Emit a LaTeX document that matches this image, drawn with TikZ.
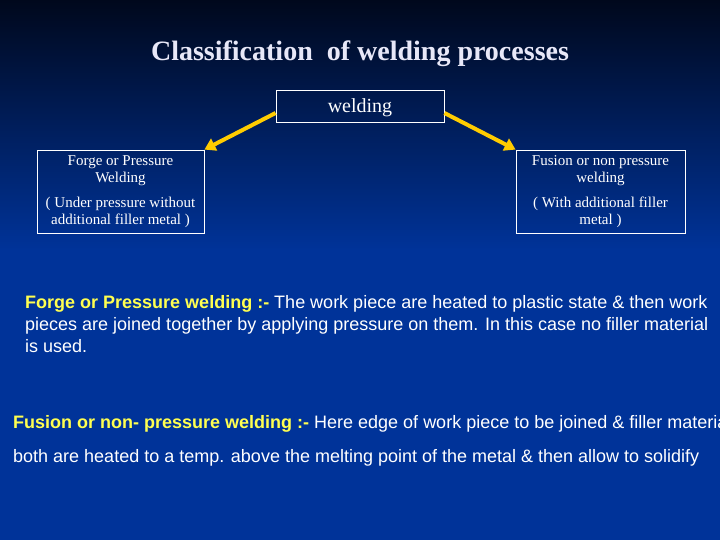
\documentclass[tikz,border=0pt]{standalone}
\usepackage{fontspec}
\setmainfont{Liberation Serif}
\newfontfamily\arialfont{Liberation Sans}
\usetikzlibrary{positioning,arrows.meta}

\definecolor{slideblue}{RGB}{0,51,153}
\definecolor{slidetop}{RGB}{0,8,28}
\definecolor{arrowyellow}{RGB}{255,204,0}
\definecolor{termyellow}{RGB}{255,255,80}
\definecolor{titlewhite}{RGB}{232,232,248}

\begin{document}
\begin{tikzpicture}[x=1pt,y=-1pt,
  box/.style={draw=white, line width=0.8pt, text=white, align=center, inner sep=0pt},
  branch/.style={-{Triangle[length=11pt,width=13pt]}, arrowyellow, line width=4pt},
  para/.style={anchor=north west, align=left, text=white, inner sep=0pt}]

% Background of the slide
\useasboundingbox (0,0) rectangle (720,540);
\clip (0,0) rectangle (720,540);
\shade[top color=slidetop, bottom color=slideblue] (0,0) rectangle (720,250);
\fill[slideblue] (0,249) rectangle (720,540);

% Title
\node[font=\bfseries\fontsize{28}{32}\selectfont, text=titlewhite] (title) at (360,54) {Classification\ \ of welding processes};

% Classification tree
\node[box, minimum width=168pt, minimum height=32pt, text depth=0pt, font=\fontsize{20}{22}\selectfont] (welding) at (360,106) {welding};
\node[box, minimum width=167pt, minimum height=83pt, font=\fontsize{15}{17}\selectfont] (forge) at (120.5,191.5)
  {Forge or Pressure\\Welding\\[8pt]( Under pressure without\\additional filler metal )};
\node[box, minimum width=169pt, minimum height=83pt, font=\fontsize{15}{17}\selectfont] (fusion) at (600.5,191.5)
  {Fusion or non pressure\\welding\\[8pt]( With additional filler\\metal )};

% Arrows
\draw[branch] ([yshift=-7pt]welding.west) -- (forge.north east);
\draw[branch] ([yshift=-7pt]welding.east) -- (fusion.north west);

% Definitions
\node[para, font=\arialfont\fontsize{18}{22}\selectfont] (forgetext) at (25,295.5)
  {\textcolor{termyellow}{\bfseries Forge or Pressure welding :-} The work piece are heated to plastic state \& then work\\
   pieces are joined together by applying pressure on them. In this case no filler material\\
   is used.};
\node[para, font=\arialfont\fontsize{18}{34}\selectfont] (fusiontext) at (13,415.5)
  {\textcolor{termyellow}{\bfseries Fusion or non- pressure welding :-} Here edge of work piece to be joined \& filler material\\
   both are heated to a temp. above the melting point of the metal \& then allow to solidify};

\end{tikzpicture}
\end{document}
